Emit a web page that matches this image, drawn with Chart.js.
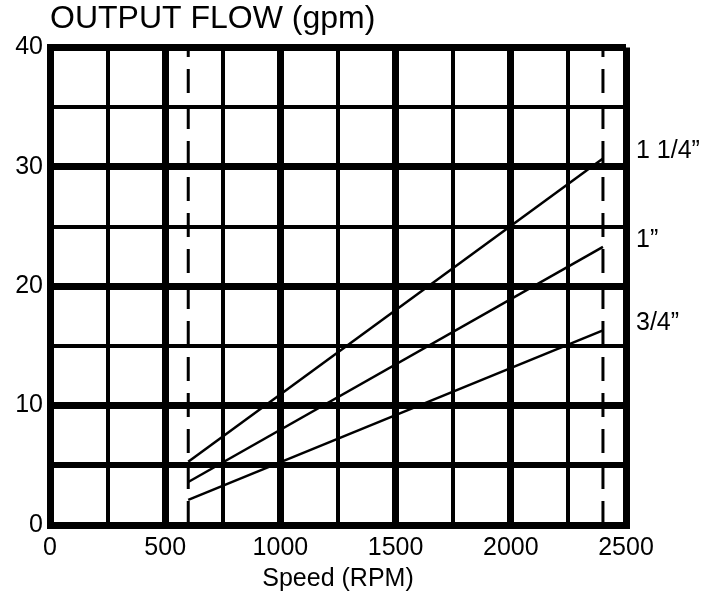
<!DOCTYPE html>
<html>
<head>
<meta charset="utf-8">
<script src="https://cdn.jsdelivr.net/npm/chart.js@4"></script>
<style>
  html, body { margin: 0; padding: 0; background: #fff; }
  #wrap { width: 717px; height: 598px; }
</style>
</head>
<body>
<div id="wrap"><canvas id="flowChart" width="717" height="598"></canvas></div>
<script>
// values
const speedRpm = [600, 2400];
const flowOneQuarter = [5.3, 30.7];   // 1 1/4"
const flowOne = [3.6, 23.3];          // 1"
const flowThreeQuarter = [2.1, 16.3]; // 3/4"
const hoseSizes = ['1 1/4\u201D', '1\u201D', '3/4\u201D'];
const limitRpm = [600, 2400];         // dashed speed limits
const flowRange = [0, 40];
const xTickLabels = ['0', '500', '1000', '1500', '2000', '2500'];
const yTickLabels = ['0', '10', '20', '30', '40'];

Chart.defaults.font.family = '"Liberation Sans", Arial, sans-serif';
Chart.defaults.color = '#000';

function toPoints(xs, ys) {
    return xs.map((x, i) => ({ x: x, y: ys[i] }));
}

const flowSets = [flowOneQuarter, flowOne, flowThreeQuarter].map((vals, i) => ({
    label: hoseSizes[i],
    data: toPoints(speedRpm, vals),
    borderColor: '#000',
    borderWidth: 2.5,
    pointRadius: 0,
    tension: 0
}));

const limitSets = limitRpm.map(rpm => ({
    label: '',
    data: toPoints([rpm, rpm], flowRange),
    borderColor: '#000',
    borderWidth: 3,
    borderDash: [24, 12],
    pointRadius: 0
}));

// size labels at the right end of each line
const endLabels = {
    id: 'endLabels',
    afterDatasetsDraw(chart) {
        const ctx = chart.ctx;
        ctx.save();
        ctx.font = '25px "Liberation Sans", Arial, sans-serif';
        ctx.fillStyle = '#000';
        ctx.textAlign = 'left';
        ctx.textBaseline = 'middle';
        flowSets.forEach((ds, i) => {
            const pts = chart.getDatasetMeta(i).data;
            const last = pts[pts.length - 1];
            ctx.fillText(ds.label, chart.chartArea.right + 10, last.y - 7);
        });
        ctx.restore();
    }
};

new Chart(document.getElementById('flowChart'), {
    type: 'line',
    data: { datasets: flowSets.concat(limitSets) },
    options: {
        responsive: false,
        animation: false,
        layout: { padding: { left: 0, right: 91, top: 0, bottom: 0 } },
        plugins: {
            legend: { display: false },
            tooltip: { enabled: false },
            title: {
                display: true,
                text: 'OUTPUT FLOW (gpm)',
                align: 'start',
                fullSize: false,
                color: '#000',
                font: { size: 32, weight: 'normal' },
                padding: { top: 0, bottom: 9 }
            }
        },
        scales: {
            x: {
                type: 'linear',
                min: 0,
                max: 2500,
                afterFit: s => { s.height = 73; },
                ticks: {
                    stepSize: 250,
                    padding: 8,
                    maxRotation: 0,
                    autoSkip: false,
                    font: { size: 25 },
                    callback: v => xTickLabels.includes(String(v)) ? String(v) : ''
                },
                grid: {
                    color: '#000',
                    drawTicks: false,
                    lineWidth: c => c.tick.value % 500 === 0 ? 7 : 4
                },
                border: { display: true, color: '#000', width: 7 },
                title: {
                    display: true,
                    text: 'Speed (RPM)',
                    color: '#000',
                    font: { size: 25 },
                    padding: { top: 0, bottom: 4 }
                }
            },
            y: {
                type: 'linear',
                min: 0,
                max: 40,
                afterFit: s => { s.width = 50; },
                ticks: {
                    stepSize: 5,
                    padding: 7,
                    autoSkip: false,
                    font: { size: 25 },
                    callback: v => yTickLabels.includes(String(v)) ? String(v) : ''
                },
                grid: {
                    color: '#000',
                    drawTicks: false,
                    lineWidth: c => c.tick.value % 10 === 0 ? 7 : (c.tick.value === 5 ? 6 : 4)
                },
                border: { display: true, color: '#000', width: 7 }
            }
        }
    },
    plugins: [endLabels]
});
</script>
</body>
</html>
